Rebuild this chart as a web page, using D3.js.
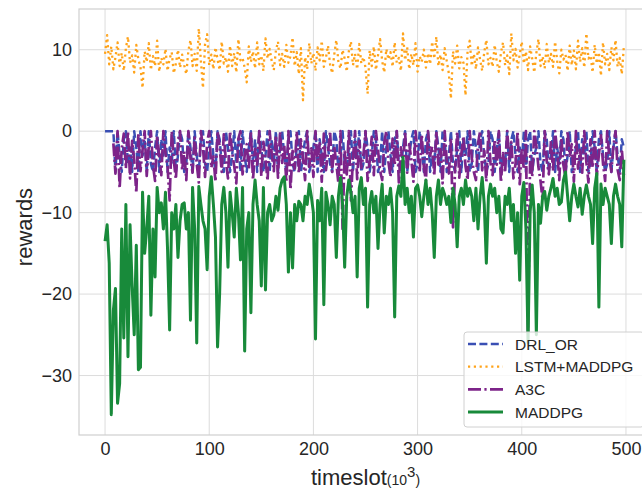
<!DOCTYPE html>
<html>
<head>
<meta charset="utf-8">
<script src="https://cdn.jsdelivr.net/npm/d3@7"></script>
<style>
body { margin: 0; background: #fff; }
svg { font-family: "Liberation Sans", Arial, sans-serif; display: block; }
</style>
</head>
<body>
<div id="chart"></div>
<script>
const width = 642, height = 489
const margin = { top: 9, right: -10, bottom: 54, left: 79 }

// one point every 2 timeslots (x 10^3)
const step = 2
const seriesNames = ["DRL_OR", "LSTM+MADDPG", "A3C", "MADDPG"]
const xTicks = [0, 100, 200, 300, 400, 500]
const yTicks = [-30, -20, -10, 0, 10]

const drlOr = [
  0, 0, 0, 0, 0,
  -5, 0, -3, -5, -1, 0, -4, -2, -5, 0,
  -2, -5, 0, -3, -1, -5, 0, -4, -5, -2,
  0, -5, -1, -3, 0, -5, -2, -4, 0, -5,
  -3, 0, -1, -5, -4, 0, -2, -5, 0, -3,
  -5, -1, 0, -4, -5, -2, 0, -3, -5, 0,
  -1, -4, -5, 0, -2, -5, -3, 0, -4, -1,
  -5, 0, -3, -5, -2, 0, -4, -1, -5, 0,
  -2, -5, -3, 0, -5, -1, -4, 0, -5, -2,
  0, -3, -5, -1, 0, -4, -5, -2, 0, -5,
  -3, -1, 0, -5, -4, -2, 0, -5, -1, -3,
  -5, 0, -2, -4, -5, 0, -1, -5, -3, 0,
  -4, -5, -2, 0, -5, -1, -3, 0, -5, -4,
  0, -2, -5, -3, 0, -1, -5, -4, 0, -5,
  -2, 0, -3, -5, -1, 0, -4, -5, -2, 0,
  -5, -3, -1, 0, -5, -4, 0, -2, -5, -1,
  0, -5, -3, -4, 0, -2, -5, 0, -1, -5,
  -3, 0, -4, -5, -2, 0, -5, -1, -3, 0,
  -5, -4, 0, -2, -5, -1, 0, -3, -5, -4,
  0, -1, -5, -2, 0, -5, -3, -4, 0, -5,
  -1, 0, -3, -5, -2, -4, 0, -5, -1, 0,
  -5, -3, -2, 0, -4, -5, 0, -1, -5, -3,
  0, -5, -2, -4, 0, -1, -5, -3, 0, -5,
  -4, -2, 0, -5, -1, -3, 0, -5, -4, 0,
  -2, -5, -1, 0, -3, -5, -4, 0, -5, -2,
  0, -3, -5, -1, -2
]

const lstmMaddpg = [
  9.5, 11.8, 8.2, 10.4, 7.6, 9.1, 10.9, 8.0, 9.6, 7.4,
  10.2, 11.6, 8.4, 9.3, 7.2, 10.6, 8.8, 7.9, 5.3, 9.8,
  8.5, 10.8, 7.5, 9.2, 8.0, 11.1, 7.3, 9.0, 8.2, 10.1,
  7.4, 8.9, 9.7, 7.1, 8.3, 10.0, 7.8, 9.4, 8.1, 7.0,
  9.9, 11.2, 8.0, 9.5, 7.4, 12.6, 8.6, 5.3, 10.7, 11.9,
  8.1, 9.4, 7.6, 10.3, 8.8, 7.5, 11.0, 8.3, 9.1, 7.3,
  10.5, 8.0, 9.6, 7.2, 11.3, 8.7, 9.0, 7.8, 6.0, 10.4,
  8.5, 9.8, 7.7, 10.9, 8.2, 9.3, 7.4, 11.4, 8.9, 10.1,
  8.6, 7.5, 9.9, 11.0, 8.1, 9.5, 7.9, 10.6, 8.4, 9.2,
  11.5, 8.0, 9.7, 7.0, 10.2, 3.8, 9.1, 7.6, 10.8, 8.3,
  9.6, 7.4, 10.3, 8.7, 11.1, 7.9, 9.0, 10.5, 8.2, 7.1,
  9.4, 11.2, 8.5, 7.7, 10.0, 8.9, 7.3, 9.8, 11.0, 8.1,
  9.5, 7.6, 10.7, 8.3, 9.1, 7.8, 4.6, 9.9, 8.0, 10.4,
  7.5, 9.3, 11.3, 8.6, 7.2, 10.1, 8.8, 9.7, 7.9, 10.9,
  8.4, 9.0, 7.4, 12.0, 8.7, 10.3, 7.6, 9.5, 8.1, 10.8,
  7.3, 9.2, 8.5, 10.0, 7.8, 9.6, 8.2, 11.0, 8.9, 11.6,
  8.0, 9.4, 7.5, 10.2, 8.6, 7.1, 4.0, 9.8, 8.3, 10.5,
  7.7, 9.1, 8.4, 4.4, 9.9, 11.1, 8.0, 9.5, 7.6, 10.3,
  8.8, 7.4, 9.7, 11.2, 8.2, 9.0, 7.9, 10.6, 8.5, 7.3,
  9.6, 10.9, 8.1, 9.3, 7.0, 12.0, 8.7, 10.1, 7.8, 9.4,
  11.0, 8.3, 9.8, 7.5, 10.4, 8.9, 7.2, 9.6, 11.3, 8.0,
  9.2, 7.7, 10.7, 8.4, 9.5, 7.9, 11.0, 8.6, 7.1, 10.0,
  8.8, 9.4, 7.4, 10.5, 8.1, 9.9, 7.6, 11.1, 8.5, 10.2,
  7.8, 12.0, 8.9, 9.3, 7.2, 10.6, 8.3, 9.7, 6.8, 10.9,
  8.2, 9.5, 7.5, 10.3, 8.7, 11.2, 7.9, 9.0, 7.0, 10.4
]

const a3c = [
  null, null, null, null,
  -1.5, -5.2, 0, -7.0, -2.1, -0.3,
  -4.6, 0, -5.8, -1.2, -3.5, -7.6, -0.2, -4.9, -2.3, 0,
  -5.5, -1.8, 0, -4.2, -6.1, -0.6, -3.0, -5.4, 0, -2.7,
  -4.4, -8.5, 0, -3.6, -5.9, -1.1, 0, -4.8, -2.5, -6.0,
  0, -3.3, -5.1, -0.8, -4.0, -6.3, 0, -2.0, -5.6, -1.4,
  0, -4.5, -3.1, -6.2, 0, -1.9, -5.0, -0.4, -3.7, -5.8,
  0, -2.6, -4.3, -6.4, -0.9, 0, -5.3, -3.0, -1.6, -4.7,
  0, -6.0, -2.2, -4.1, 0, -5.5, -1.3, -3.4, -6.1, 0,
  -2.8, -4.9, -0.5, -5.7, 0, -3.9, -1.7, -6.3, 0, -7.2,
  -2.4, -4.6, 0, -5.2, -1.0, -3.3, -6.0, 0, -4.4, -2.1,
  -5.6, 0, -3.6, -1.5, -6.2, -0.3, -4.8, -2.7, 0, -5.0,
  -1.8, -4.0, -6.4, 0, -12.0, -2.5, -5.3, 0, -8.5, -3.2,
  0, -5.9, -1.2, -4.5, -2.9, 0, -6.1, -3.7, -0.7, -5.4,
  0, -2.3, -4.9, -6.0, -1.4, 0, -3.8, -5.6, -0.9, -4.2,
  0, -6.3, -2.0, -4.7, 0, -5.1, -1.6, -3.5, -6.2, 0,
  -2.6, -5.0, -0.4, -4.4, -6.1, 0, -3.0, -1.9, -5.5, 0,
  -4.1, -2.2, -6.4, 0, -3.6, -5.2, -1.1, -11.8, -4.6, 0,
  -5.7, -2.8, -0.6, -4.3, -6.0, 0, -3.3, -5.0, -6.0, -1.5,
  0, -4.8, -2.4, -6.2, 0, -3.9, -5.4, -1.0, -4.1, 0,
  -6.3, -2.7, -5.1, 0, -3.4, -1.3, -5.8, -4.0, 0, -6.5,
  -2.1, -4.7, 0, -25.0, -3.1, -5.6, 0, -1.8, -4.4, -6.1,
  -8.5, 0, -3.7, -5.3, -1.2, -4.9, 0, -2.5, -6.0, -0.8,
  -4.2, -5.7, 0, -3.0, -1.6, -6.2, 0, -4.6, -2.3, -5.1,
  0, -3.8, -6.3, -1.0, -4.5, 0, -5.5, -2.9, -0.5, -4.0,
  -6.1, 0, -3.2, -5.0, -1.7, 0, -4.7, -6.0, -2.2, -5.4
]

const maddpg = [
  -13.5, -11.5, -16.2, -34.8, -22, -19.3, -33.4, -31, -12, -25.4,
  -9, -27.7, -11.5, -19, -25, -14, -29.3, -29, -7.5, -15,
  -12, -8, -22.6, -12, -17.9, -6.9, -10, -8.8, -12, -7.5,
  -14.5, -24.4, -10, -12, -9, -15.5, -11, -9, -8.8, -12,
  -10, -23.2, -6.9, -12, -26, -6.8, -9, -11, -12, -17,
  -8, -5.6, -9, -13, -26.5, -19.9, -9, -6.9, -10, -16.7,
  -7.5, -10, -13, -7, -10, -15.8, -6.9, -27, -12, -10,
  -22.3, -9, -6, -9, -11, -19, -6.9, -19.5, -10, -9,
  -11, -10.3, -8, -9.7, -7, -6, -5.6, -9, -17.3, -10,
  -16.8, -9, -11, -8.6, -9, -11, -8, -9, -6.5, -8,
  -10, -25.5, -8.5, -11, -7, -21.3, -7.5, -9, -11.5, -8,
  -9, -15.5, -8, -5.7, -9, -16.7, -8, -6, -7.5, -10,
  -8, -17.9, -7, -5.7, -9, -7, -21.6, -9, -7.4, -10,
  -8, -14.4, -9, -6.5, -12.5, -8, -9, -7, -10, -22.8,
  -8, -6.7, -8, -3.2, -9, -7, -10, -8, -13, -7,
  -6.6, -8, -10.5, -8, -6, -9, -7, -10, -15.5, -8,
  -6, -9, -7, -7.8, -9, -8, -11.2, -7, -9, -14.2,
  -8, -7, -9, -6, -8, -7, -8, -11, -7, -12,
  -8, -5.7, -9, -16.2, -8, -6.5, -8, -7, -10, -8,
  -12, -12.5, -8, -9, -7, -11, -9, -15, -10, -18.3,
  -8, -6.3, -12, -26, -10, -6.6, -10, -25, -9, -11.3,
  -8, -7.4, -9.7, -8, -7, -5.8, -8, -7, -9, -8.7,
  -6, -5, -8, -11, -8, -6.5, -8, -9.3, -7, -10.2,
  -8, -6.6, -8, -9, -13.8, -7, -5.2, -21.6, -6.5, -9,
  -7, -8, -9, -13.8, -8, -6.5, -8, -9, -14.2, -3.5
]

const colors = ["#3a4fb4", "#ffa31a", "#7d2489", "#188a3a"]
const dashes = ["8 3.4", "2.2 3.6", "13 3.4 2.2 3.4", null]
const widths = [2.5, 2.3, 2.7, 3]
const allSeries = [drlOr, lstmMaddpg, a3c, maddpg]

const x = d3.scaleLinear([-25, 525], [margin.left, width - margin.right])
const y = d3.scaleLinear([-37.3, 15], [height - margin.bottom, margin.top])

const svg = d3.select("#chart").append("svg")
    .attr("width", width)
    .attr("height", height)

svg.append("defs").append("clipPath")
    .attr("id", "plot")
  .append("rect")
    .attr("x", margin.left)
    .attr("y", margin.top)
    .attr("width", width - margin.right - margin.left)
    .attr("height", height - margin.bottom - margin.top)

// grid
const grid = svg.append("g")
    .attr("stroke", "#dcdcdc")
    .attr("stroke-width", 1)
grid.selectAll(".gx")
    .data(xTicks)
    .join("line")
    .attr("x1", d => x(d))
    .attr("x2", d => x(d))
    .attr("y1", margin.top)
    .attr("y2", height - margin.bottom)
grid.selectAll(".gy")
    .data(yTicks)
    .join("line")
    .attr("y1", d => y(d))
    .attr("y2", d => y(d))
    .attr("x1", margin.left)
    .attr("x2", width - margin.right)

// frame
svg.append("rect")
    .attr("x", margin.left)
    .attr("y", margin.top)
    .attr("width", width - margin.right - margin.left)
    .attr("height", height - margin.bottom - margin.top)
    .attr("fill", "none")
    .attr("stroke", "#cfcfcf")
    .attr("stroke-width", 1.2)

const line = d3.line()
    .defined(d => d != null)
    .x((d, i) => x(i * step))
    .y(d => y(d))

svg.append("g")
    .attr("clip-path", "url(#plot)")
    .selectAll("path")
    .data(allSeries)
    .join("path")
    .attr("fill", "none")
    .attr("stroke", (d, i) => colors[i])
    .attr("stroke-width", (d, i) => widths[i])
    .attr("stroke-dasharray", (d, i) => dashes[i])
    .attr("stroke-linejoin", "round")
    .attr("d", line)

// axes
const xAxis = g => g
    .attr("transform", `translate(0,${height - margin.bottom})`)
    .call(d3.axisBottom(x).tickValues(xTicks).tickSize(0).tickPadding(7))
    .call(g => g.select(".domain").remove())
    .call(g => g.selectAll("text").attr("font-size", 18).attr("fill", "#262626"))

const yAxis = g => g
    .attr("transform", `translate(${margin.left},0)`)
    .call(d3.axisLeft(y).tickValues(yTicks).tickSize(0).tickPadding(7))
    .call(g => g.select(".domain").remove())
    .call(g => g.selectAll("text").attr("font-size", 18).attr("fill", "#262626"))

svg.append("g").call(xAxis).attr("font-family", null)
svg.append("g").call(yAxis).attr("font-family", null)

svg.append("text")
    .attr("transform", "translate(32,227) rotate(-90)")
    .attr("text-anchor", "middle")
    .attr("font-size", 22)
    .attr("fill", "#262626")
    .text("rewards")

const xl = svg.append("text")
    .attr("x", 311)
    .attr("y", 485)
    .attr("font-size", 22)
    .attr("fill", "#262626")
xl.append("tspan").text("timeslot")
xl.append("tspan").attr("font-size", 14).text("(10")
xl.append("tspan").attr("font-size", 15).attr("dy", -8).text("3")
xl.append("tspan").attr("font-size", 14).attr("dy", 8).text(")")

// legend
const legend = svg.append("g")
legend.append("rect")
    .attr("x", 464)
    .attr("y", 332)
    .attr("width", 180)
    .attr("height", 95)
    .attr("rx", 3)
    .attr("fill", "#fff")
    .attr("fill-opacity", 0.8)
    .attr("stroke", "#d0d0d0")

const row = legend.selectAll(".row")
    .data(seriesNames)
    .join("g")
    .attr("transform", (d, i) => `translate(0,${344 + i * 22.7})`)
row.append("line")
    .attr("x1", 468)
    .attr("x2", 503)
    .attr("stroke", (d, i) => colors[i])
    .attr("stroke-width", (d, i) => widths[i])
    .attr("stroke-dasharray", (d, i) => dashes[i])
row.append("text")
    .attr("x", 515)
    .attr("y", 5.5)
    .attr("font-size", 15.5)
    .attr("fill", "#262626")
    .text(d => d)
</script>
</body>
</html>
